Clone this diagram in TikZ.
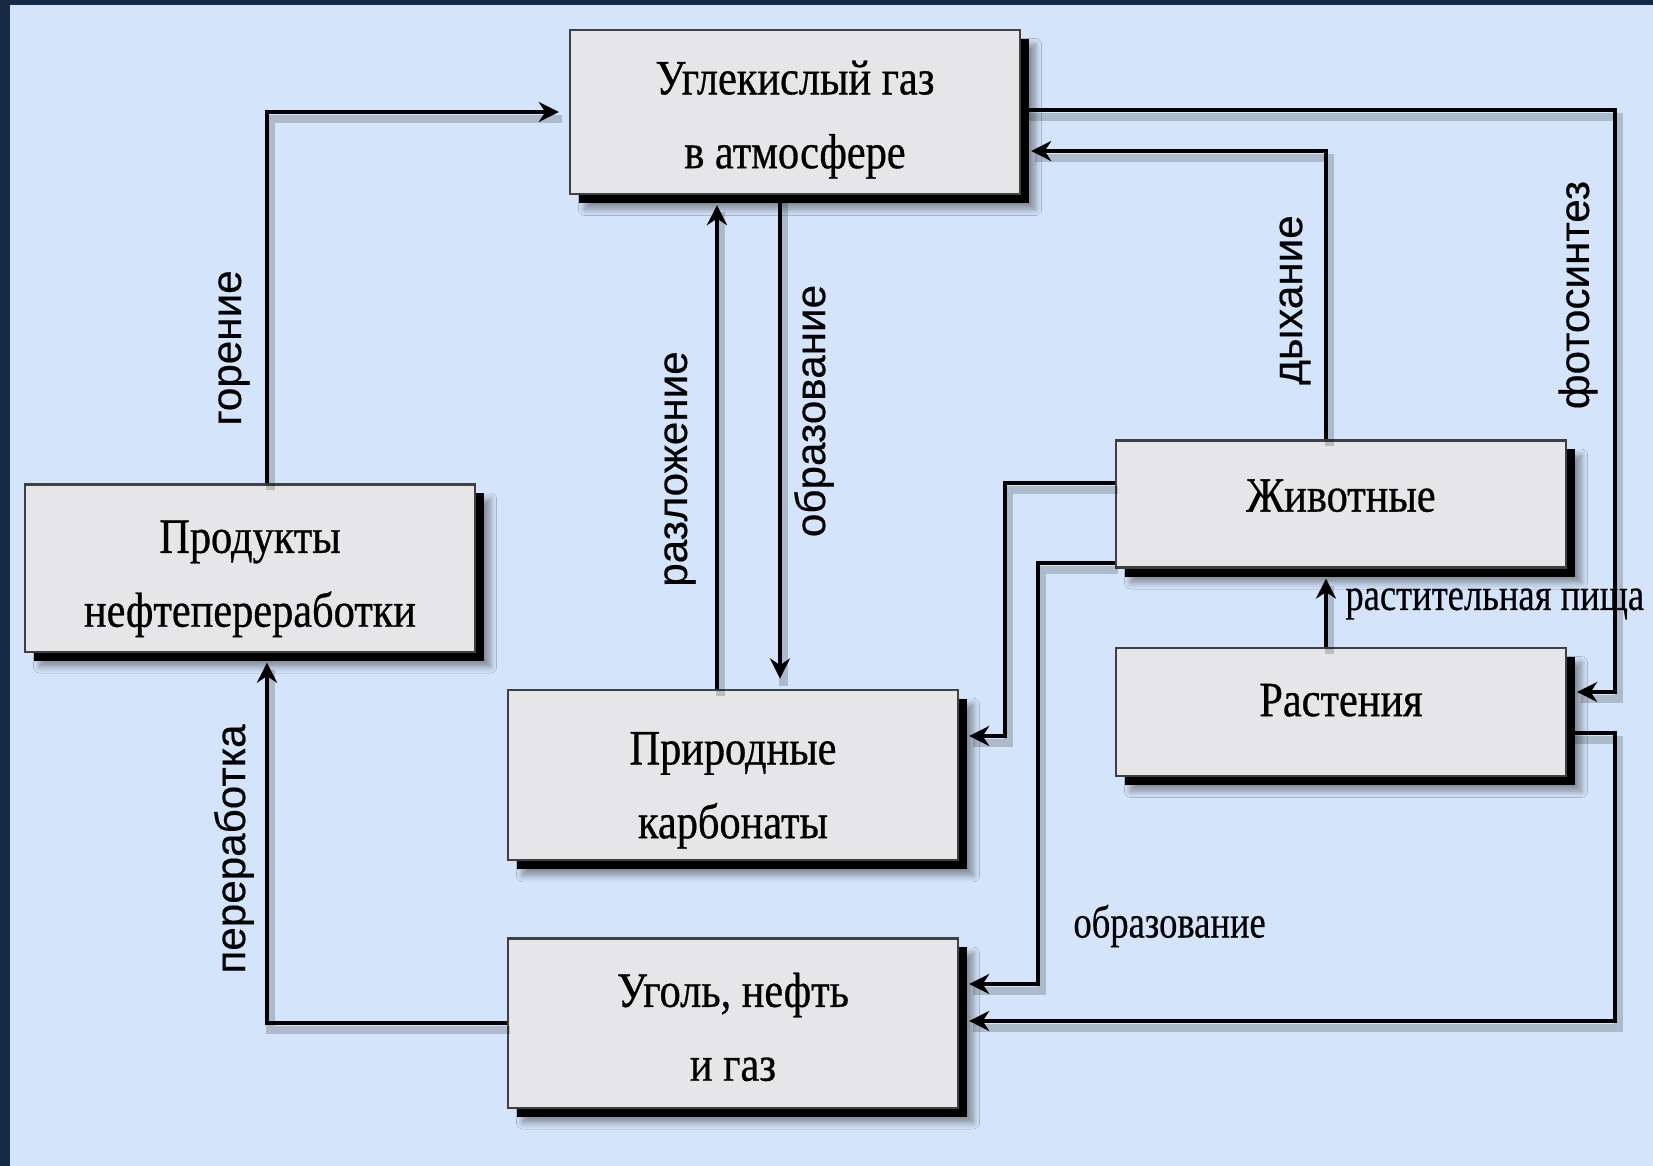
\documentclass[tikz,border=0pt]{standalone}
\usepackage{fontspec}
\setmainfont{Liberation Serif}[FakeStretch=0.8,FakeBold=0.4]
\setsansfont{Liberation Sans}[FakeBold=0.3]
\newfontfamily\blokfont{Liberation Serif}[FakeStretch=0.86,FakeBold=0.6]
\usetikzlibrary{arrows.meta,shadows,shadows.blur}

\definecolor{slide}{HTML}{142A45}
\definecolor{paper}{HTML}{D4E4FA}
\definecolor{boxgray}{HTML}{E6E5E8}

\tikzset{
  blok/.style={draw=black!75, line width=.6pt, fill=boxgray, minimum width=4.5cm,
    align=center, font=\blokfont\fontsize{14}{21}\selectfont,
    blur shadow={shadow xshift=1.5mm, shadow yshift=-1.5mm, shadow blur steps=6},
    drop shadow={shadow xshift=.9mm, shadow yshift=-.9mm, fill=black, opacity=1}},
  strelka/.style={line width=1pt, -{Stealth[length=2mm,width=2mm]}, shorten >=1mm,
    preaction={draw=black, line width=2.4pt, opacity=.18, arrows=-,
      transform canvas={xshift=1pt,yshift=-2pt}}},
  podpis/.style={font=\sffamily\fontsize{12}{14}\selectfont, rotate=90},
  metka/.style={font=\fontsize{13}{15}\selectfont, anchor=west}
}

\begin{document}
\begin{tikzpicture}[x=0.01cm,y=-0.01cm]
  \useasboundingbox (0,0) rectangle (1653,1166);
  \fill[slide] (0,0) rectangle (1653,1166);
  \fill[paper] (10,5) rectangle (1653,1166);
  % blocks
  \node[blok, minimum height=1.64cm] (co2)   at (795,112)  {\rule{0pt}{4.9mm}Углекислый газ\\в атмосфере};
  \node[blok, minimum height=1.67cm] (prod)  at (250,568)  {\rule{0pt}{5.4mm}Продукты\\нефтепереработки};
  \node[blok, minimum height=1.69cm] (carb)  at (733,775)  {\rule{0pt}{6.3mm}Природные\\карбонаты};
  \node[blok, minimum height=1.69cm] (coal)  at (733,1023) {\rule{0pt}{4.2mm}Уголь, нефть\\и газ};
  \node[blok, minimum height=1.27cm] (anim)  at (1341,504) {Животные\rule[-1.7mm]{0pt}{1.7mm}};
  \node[blok, minimum height=1.28cm] (plant) at (1341,712) {Растения\rule[-2.4mm]{0pt}{2.4mm}};
  % arrows
  \draw[strelka] ([xshift=.17cm]prod.north) |- (co2.west);
  \draw[strelka] (coal.west) -| ([xshift=.17cm]prod.south);
  \draw[strelka] ([xshift=-.16cm]carb.north) -- ([xshift=-.16cm]carb.north |- co2.south);
  \draw[strelka] ([xshift=-.15cm]co2.south) -- ([xshift=-.15cm]co2.south |- carb.north);
  \draw[strelka] ([xshift=-.15cm]anim.north) |- ([yshift=-.39cm]co2.east);
  \draw[strelka] ([yshift=.02cm]co2.east) -| ([xshift=.48cm,yshift=.2cm]plant.east) -- ([yshift=.2cm]plant.east);
  \draw[strelka] ([xshift=-.15cm]plant.north) -- ([xshift=-.15cm]anim.south);
  \draw[strelka] ([yshift=.21cm]anim.west) -- ++(-110,0) |- ([yshift=.39cm]carb.east);
  \draw[strelka] ([yshift=-.59cm]anim.west) -- ++(-77,0) |- ([yshift=.39cm]coal.east);
  \draw[strelka] ([yshift=-.21cm]plant.east) -- ++(48,0) |- ([yshift=.02cm]coal.east);
  % labels
  \node[podpis] (goren)   at (234,348)  {горение};
  \node[podpis] (pererab) at (234,849)  {переработка};
  \node[podpis] (razl)    at (680,469)  {разложение};
  \node[podpis] (obraz)   at (814,411)  {образование};
  \node[podpis] (dyh)     at (1295,300) {дыхание};
  \node[podpis] (foto)    at (1578,295) {фотосинтез};
  \node[metka]  (pisha)   at (1333,604) {растительная пища};
  \node[metka]  (obrug)   at (1061,926) {образование};
\end{tikzpicture}
\end{document}
